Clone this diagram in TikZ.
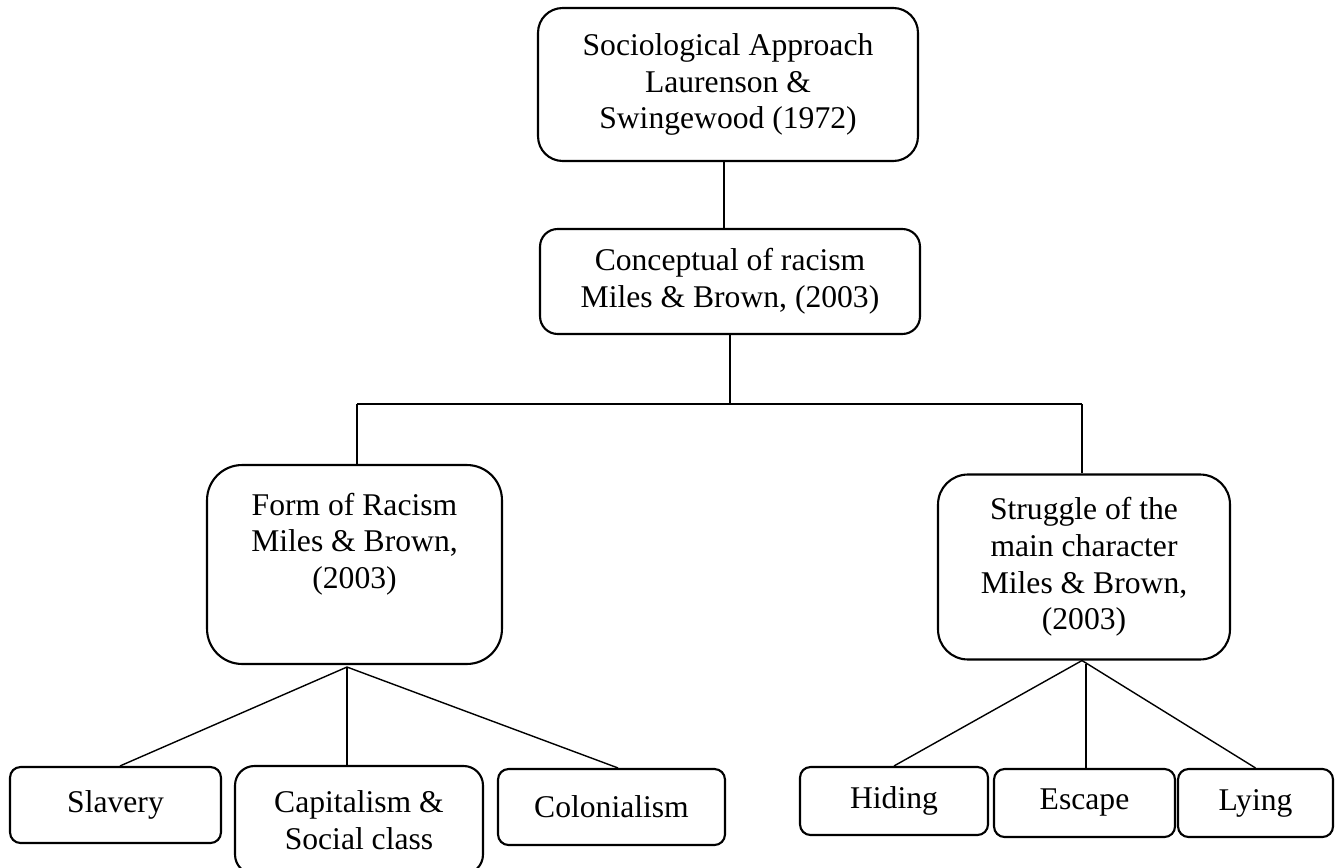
\documentclass[tikz,border=0pt]{standalone}
\usepackage{fontspec}
\setmainfont{Liberation Serif}
\usepackage{tikz}
\usetikzlibrary{arrows.meta,positioning}

\tikzset{
  box/.style={draw, rounded corners=#1, line width=1.2pt, align=center,
    inner sep=0pt, font=\fontsize{18}{20.8}\selectfont},
  box/.default=6pt,
  link/.style={line width=0.8pt},
}

\begin{document}
\begin{tikzpicture}[x=0.02cm, y=-0.02cm]
  \useasboundingbox (0,0) rectangle (1342,868);
  % top of the tree
  \node[box=14pt, minimum width=7.6cm, minimum height=3.06cm] (top) at (728,84.5)
    {Sociological Approach\\Laurenson \&\\Swingewood (1972)};
  \node[box=10pt, minimum width=7.6cm, minimum height=2.1cm] (concept) at (730,281.5)
    {Conceptual of racism\\Miles \& Brown, (2003)};
  \node[box=20pt, minimum width=5.9cm, minimum height=3.98cm,
    label={[anchor=north, align=center, yshift=-0.46cm,
      font=\fontsize{18}{20.8}\selectfont]north:{Form of Racism\\Miles \& Brown,\\(2003)}}]
    (form) at (354.5,564.5) {};
  \node[box=17pt, minimum width=5.84cm, minimum height=3.7cm] (struggle) at (1084,567)
    {Struggle of the\\main character\\Miles \& Brown,\\(2003)};
  % leaves
  \node[box, minimum width=4.22cm, minimum height=1.52cm] (slavery) at (115.5,805) {Slavery};
  \node[box=11pt, minimum width=4.96cm, minimum height=2.16cm] (capital) at (359,820)
    {Capitalism \&\\Social class};
  \node[box, minimum width=4.54cm, minimum height=1.52cm] (colonial) at (611.5,807) {Colonialism};
  \node[box, minimum width=3.76cm, minimum height=1.36cm] (hiding) at (894,801) {Hiding};
  \node[box, minimum width=3.62cm, minimum height=1.36cm] (escape) at (1084.5,803) {Escape};
  \node[box, minimum width=3.1cm, minimum height=1.36cm] (lying) at (1255.5,803) {Lying};

  % connectors
  \draw[link] ([xshift=-0.08cm]top.south) -- ([xshift=-0.08cm]top.south |- concept.north);
  \coordinate (busL) at (357,404);
  \coordinate (busR) at (1082,404);
  \draw[link] (concept.south) -- (concept.south |- busL);
  \draw[link] (busL) -- (busR);
  \draw[link] (busL) -- (busL |- form.north);
  \draw[link] (busR) -- (busR |- struggle.north);

  \coordinate (formfan) at ([xshift=-0.15cm, yshift=-0.04cm]form.south);
  \draw[link] (formfan) -- ([xshift=0.09cm]slavery.north);
  \draw[link] (formfan) -- (formfan |- capital.north);
  \draw[link] (formfan) -- ([xshift=0.13cm]colonial.north);

  \coordinate (strugfan) at ([xshift=-0.04cm]struggle.south);
  \draw[link] (strugfan) -- (hiding.north);
  \draw[link] ([xshift=0.08cm, yshift=-0.06cm]strugfan) -- ([xshift=0.08cm]strugfan |- escape.north);
  \draw[link] (strugfan) -- (lying.north);
\end{tikzpicture}
\end{document}
